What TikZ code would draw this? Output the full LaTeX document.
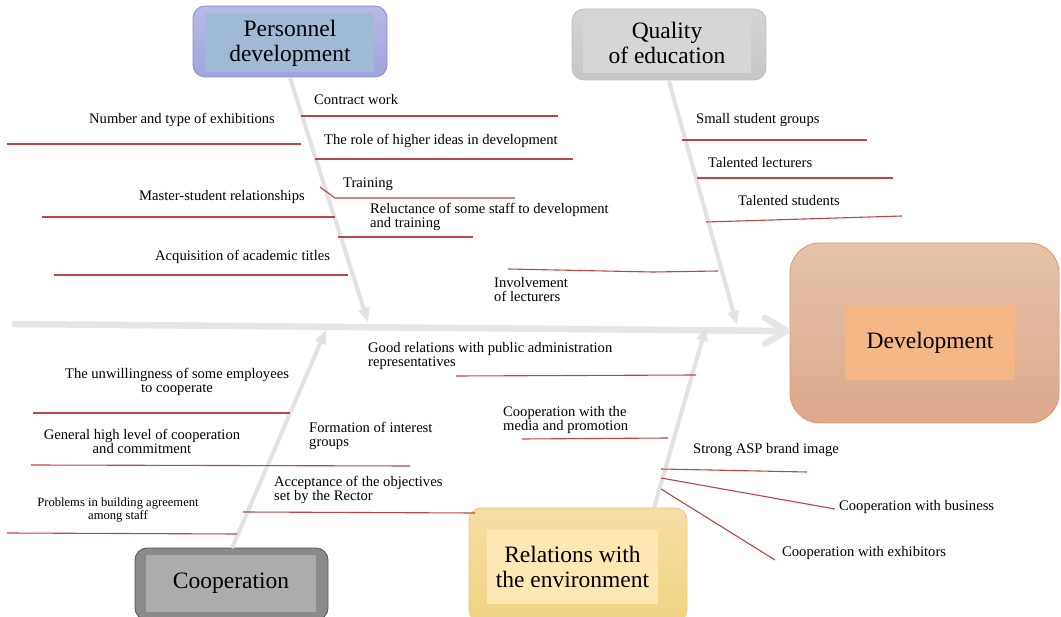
\documentclass[tikz,border=0pt]{standalone}
\usepackage{fontspec}
\setmainfont{Liberation Serif}
\usetikzlibrary{arrows.meta}
\definecolor{redline}{RGB}{188,70,68}
\definecolor{spinecol}{RGB}{230,230,230}
\definecolor{branchcol}{RGB}{226,226,226}
\newcommand{\lblfont}{\fontsize{14.6}{14.4}\selectfont}
\newcommand{\smlfont}{\fontsize{12.6}{13.5}\selectfont}
\newcommand{\ttlfont}{\fontsize{23.5}{25}\selectfont}
\tikzset{
  lbl/.style={inner sep=0pt, anchor=base west, font=\lblfont, align=left},
  clbl/.style={inner sep=0pt, anchor=base, font=\lblfont, align=center},
  rl/.style={draw=redline, line width=1.1pt},
  outerbox/.style={rounded corners=12pt, line width=0.8pt, inner sep=0pt},
  innerbox/.style={inner sep=0pt, font=\ttlfont, align=center, text=black},
  branch/.style={draw=branchcol, line width=4pt, -{Triangle[length=14pt,width=11pt]}},
}
\begin{document}
\begin{tikzpicture}[x=1pt,y=-1pt]
\useasboundingbox[fill=white] (0,0) rectangle (1061,617);

% ---------- boxes ----------
\node[outerbox, draw={rgb,255:red,140;green,140;blue,200}, top color={rgb,255:red,184;green,184;blue,232}, bottom color={rgb,255:red,160;green,164;blue,220}, minimum width=194pt, minimum height=71pt] (pd) at (290,41.5) {};
\node[innerbox, fill={rgb,255:red,160;green,185;blue,212}, minimum width=168pt, minimum height=59pt] (pdi) at (290,43) {Personnel\\development};

\node[outerbox, draw={rgb,255:red,190;green,190;blue,190}, top color={rgb,255:red,212;green,212;blue,212}, bottom color={rgb,255:red,198;green,198;blue,198}, minimum width=194pt, minimum height=71pt] (qe) at (669,44.5) {};
\node[innerbox, fill={rgb,255:red,214;green,214;blue,214}, minimum width=168pt, minimum height=60pt] (qei) at (667,43) {Quality\\of education};

\node[outerbox, rounded corners=30pt, draw={rgb,255:red,216;green,150;blue,110}, top color={rgb,255:red,229;green,195;blue,170}, bottom color={rgb,255:red,222;green,168;blue,138}, minimum width=269pt, minimum height=180pt] (dev) at (924.5,333) {};
\node[innerbox, fill={rgb,255:red,246;green,183;blue,134}, minimum width=170pt, minimum height=74pt] (devi) at (930,343) {Development};

\node[outerbox, draw={rgb,255:red,85;green,85;blue,85}, fill={rgb,255:red,138;green,138;blue,138}, minimum width=193pt, minimum height=72pt] (co) at (231.5,584) {};
\node[innerbox, fill={rgb,255:red,172;green,172;blue,172}, minimum width=170pt, minimum height=57pt] (coi) at (231,583.5) {Cooperation};

\node[outerbox, draw={rgb,255:red,238;green,204;blue,120}, top color={rgb,255:red,244;green,222;blue,164}, bottom color={rgb,255:red,240;green,210;blue,130}, minimum width=218pt, minimum height=114pt] (re) at (578,565) {};
\node[innerbox, fill={rgb,255:red,253;green,231;blue,178}, minimum width=171pt, minimum height=74pt] (rei) at (572.5,567) {Relations with\\the environment};

% ---------- spine and branches ----------
\coordinate (spineS) at (12,324);
\coordinate (spineE) at (790,331);
\draw[draw=spinecol, line width=6.5pt, -{Straight Barb[length=22pt,width=26pt,round]}] (spineS) -- (spineE);

\coordinate (pdS) at (290,78);
\coordinate (pdT) at (368,322);
\draw[branch] (pdS) -- (pdT);
\coordinate (qeS) at (669,81);
\coordinate (qeT) at (737,325);
\draw[branch] (qeS) -- (qeT);
\coordinate (coS) at (232,548);
\coordinate (coT) at (326,330);
\draw[branch] (coS) -- (coT);
\coordinate (reS) at (654,508);
\coordinate (reT) at (706,327);
\draw[branch] (reS) -- (reT);

% ---------- red sub-branches ----------
\draw[rl] (7,144) -- (301,144);
\draw[rl] (42,217) -- (335,217);
\draw[rl] (54,275) -- (348,275);
\draw[rl] (301,116) -- (558,116);
\draw[rl] (315,159) -- (573,159);
\draw[rl] (320,187) -- (335,198) -- (515,198);
\draw[rl] (338,237) -- (473,237);
\draw[rl] (508,269) -- (653,272) -- (718,271);
\draw[rl] (682,140) -- (867,140);
\draw[rl] (697,178) -- (893,178);
\draw[rl] (706,222) -- (902,216);
\draw[rl] (33,413) -- (290,413);
\draw[rl] (31,465) -- (410,466);
\draw[rl] (7,533) -- (237,534);
\draw[rl] (243,512) -- (475,513);
\draw[rl] (456,376) -- (696,375);
\draw[rl] (522,439) -- (668,438);
\draw[rl] (661,469) -- (807,472);
\draw[rl] (661,478) -- (835,509);
\draw[rl] (661,489) -- (775,560);

% ---------- labels (base = baseline of last line) ----------
\node[lbl] (l1) at (89,124) {Number and type of exhibitions};
\node[lbl] (l2) at (139,201) {Master-student relationships};
\node[lbl] (l3) at (155,261) {Acquisition of academic titles};
\node[lbl] (l4) at (314,105) {Contract work};
\node[lbl] (l5) at (324,145) {The role of higher ideas in development};
\node[lbl] (l6) at (343,188) {Training};
\node[lbl] (l7) at (370,228) {Reluctance of some staff to development\\and training};
\node[lbl] (l8) at (494,302) {Involvement\\of lecturers};
\node[lbl] (l9) at (696,124) {Small student groups};
\node[lbl] (l10) at (708,168) {Talented lecturers};
\node[lbl] (l11) at (738,206) {Talented students};
\node[lbl] (l12) at (368,367) {Good relations with public administration\\representatives};
\node[clbl] (l13) at (177,393) {The unwillingness of some employees\\to cooperate};
\node[clbl] (l14) at (142,454) {General high level of cooperation\\and commitment};
\node[clbl, font=\smlfont] (l15) at (118,520) {Problems in building agreement\\among staff};
\node[lbl] (l16) at (309,447) {Formation of interest\\groups};
\node[lbl] (l17) at (274,501) {Acceptance of the objectives\\set by the Rector};
\node[lbl] (l18) at (503,431) {Cooperation with the\\media and promotion};
\node[lbl] (l19) at (693,454) {Strong ASP brand image};
\node[lbl] (l20) at (839,511) {Cooperation with business};
\node[lbl] (l21) at (782,557) {Cooperation with exhibitors};
\end{tikzpicture}
\end{document}
